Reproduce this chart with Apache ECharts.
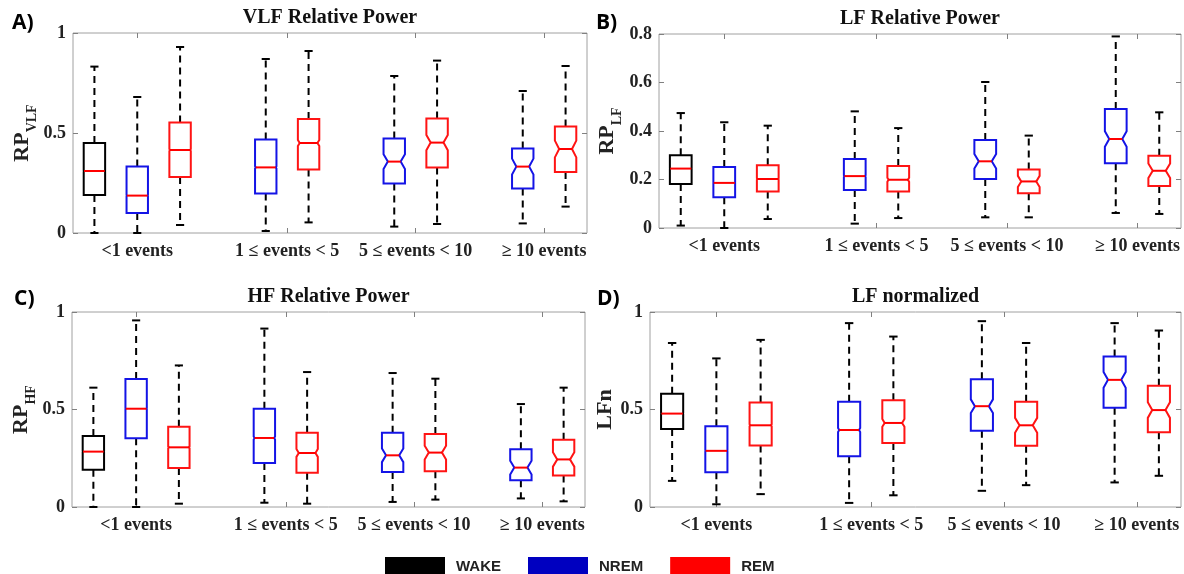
<!DOCTYPE html>
<html>
<head>
<meta charset="utf-8">
<script src="https://cdn.jsdelivr.net/npm/echarts@6/dist/echarts.min.js"></script>
<style>
  html, body { margin: 0; padding: 0; background: #fff; }
  #chart { width: 1184px; height: 574px; }
</style>
</head>
<body>
<div id="chart"></div>
<script>
// group labels under each panel
const groupLabels = ['<1 events', '1 \u2264 events < 5', '5 \u2264 events < 10', '\u2265 10 events'];
const stages = ['WAKE', 'NREM', 'REM'];

// rows: [group, min, q1, median, q3, max, notch half-height]
// A) VLF relative power
const vlfWake = [[0, 0.000, 0.190, 0.310, 0.450, 0.832, 0.003]];
const vlfNrem = [
  [0, 0.000, 0.100, 0.187, 0.333, 0.680, 0.003],
  [1, 0.010, 0.198, 0.328, 0.468, 0.870, 0.006],
  [2, 0.032, 0.248, 0.357, 0.473, 0.785, 0.037],
  [3, 0.048, 0.223, 0.332, 0.423, 0.710, 0.040]
];
const vlfRem = [
  [0, 0.040, 0.280, 0.415, 0.553, 0.930, 0.005],
  [1, 0.053, 0.317, 0.450, 0.570, 0.910, 0.015],
  [2, 0.045, 0.328, 0.452, 0.573, 0.862, 0.038],
  [3, 0.132, 0.305, 0.420, 0.532, 0.835, 0.042]
];

// B) LF relative power
const lfWake = [[0, 0.010, 0.181, 0.245, 0.300, 0.474, 0.002]];
const lfNrem = [
  [0, 0.000, 0.127, 0.186, 0.252, 0.436, 0.002],
  [1, 0.018, 0.157, 0.214, 0.285, 0.481, 0.004],
  [2, 0.044, 0.202, 0.275, 0.363, 0.602, 0.030],
  [3, 0.062, 0.267, 0.367, 0.491, 0.790, 0.032]
];
const lfRem = [
  [0, 0.037, 0.151, 0.202, 0.259, 0.422, 0.003],
  [1, 0.041, 0.151, 0.199, 0.256, 0.412, 0.008],
  [2, 0.044, 0.143, 0.192, 0.241, 0.381, 0.023],
  [3, 0.058, 0.173, 0.236, 0.298, 0.477, 0.030]
];

// C) HF relative power
const hfWake = [[0, 0.000, 0.191, 0.284, 0.364, 0.612, 0.003]];
const hfNrem = [
  [0, 0.000, 0.352, 0.504, 0.656, 0.957, 0.003],
  [1, 0.022, 0.226, 0.354, 0.504, 0.915, 0.008],
  [2, 0.026, 0.180, 0.265, 0.381, 0.687, 0.035],
  [3, 0.044, 0.137, 0.202, 0.296, 0.528, 0.035]
];
const hfRem = [
  [0, 0.017, 0.200, 0.306, 0.412, 0.726, 0.005],
  [1, 0.017, 0.176, 0.277, 0.381, 0.692, 0.020],
  [2, 0.038, 0.183, 0.279, 0.374, 0.658, 0.035],
  [3, 0.029, 0.162, 0.244, 0.345, 0.612, 0.037]
];

// D) LF normalized
const lfnWake = [[0, 0.134, 0.400, 0.479, 0.581, 0.841, 0.003]];
const lfnNrem = [
  [0, 0.014, 0.178, 0.288, 0.414, 0.762, 0.003],
  [1, 0.021, 0.260, 0.395, 0.540, 0.943, 0.010],
  [2, 0.083, 0.391, 0.517, 0.655, 0.953, 0.035],
  [3, 0.126, 0.509, 0.652, 0.772, 0.943, 0.040]
];
const lfnRem = [
  [0, 0.066, 0.316, 0.419, 0.536, 0.857, 0.005],
  [1, 0.060, 0.328, 0.431, 0.548, 0.874, 0.020],
  [2, 0.112, 0.314, 0.419, 0.540, 0.841, 0.038],
  [3, 0.160, 0.383, 0.497, 0.622, 0.905, 0.040]
];

const yTicksA = [0, 0.5, 1];
const yTicksB = [0, 0.2, 0.4, 0.6, 0.8];

const legendColors = { WAKE: '#000000', NREM: '#0000c0', REM: '#ff0000' };
const boxColors = { WAKE: '#000000', NREM: '#1414e6', REM: '#ff1414' };
const serif = 'Liberation Serif';

const panels = [
  { letter: 'A)', title: 'VLF Relative Power', yName: '{a|RP}{b|VLF}', ticks: yTicksA,
    grid: { left: 73, top: 33, width: 514, height: 200 }, nameGap: 27,
    data: [vlfWake, vlfNrem, vlfRem], letterPos: [12, 13] },
  { letter: 'B)', title: 'LF Relative Power', yName: '{a|RP}{b|LF}', ticks: yTicksB,
    grid: { left: 659, top: 34, width: 522, height: 194 }, nameGap: 35,
    data: [lfWake, lfNrem, lfRem], letterPos: [596, 13] },
  { letter: 'C)', title: 'HF Relative Power', yName: '{a|RP}{b|HF}', ticks: yTicksA,
    grid: { left: 72, top: 312, width: 513, height: 195 }, nameGap: 27,
    data: [hfWake, hfNrem, hfRem], letterPos: [14, 289] },
  { letter: 'D)', title: 'LF normalized', yName: '{a|LFn}', ticks: yTicksA,
    grid: { left: 650, top: 312, width: 531, height: 195 }, nameGap: 28,
    data: [lfnWake, lfnNrem, lfnRem], letterPos: [597, 289] }
];

// centre of the boxes that exist in each group -> label position
function groupCenters(p) {
  return groupLabels.map(function (_, g) {
    const slots = [];
    p.data.forEach(function (rows, s) {
      rows.forEach(function (r) { if (r[0] === g) slots.push(g * 3 + s); });
    });
    return (Math.min.apply(null, slots) + Math.max.apply(null, slots)) / 2;
  });
}

function renderBox(params, api) {
  const stage = stages[params.seriesIndex % 3];
  const color = boxColors[stage];
  const slot = api.value(0);
  const pt = function (v) { return api.coord([slot, v]); };
  const x = pt(api.value(3))[0];
  const w = api.size([1, 0])[0] * 0.5;
  const l = x - w / 2, r = x + w / 2;
  const yMin = pt(api.value(1))[1], yQ1 = pt(api.value(2))[1], yMed = pt(api.value(3))[1];
  const yQ3 = pt(api.value(4))[1], yMax = pt(api.value(5))[1];
  const nPx = Math.abs(pt(api.value(3) + api.value(6))[1] - yMed);
  const d = Math.min(0.2 * w, 0.6 * nPx);
  const cw = w * 0.19;
  const dash = { stroke: '#000', lineWidth: 2, lineDash: [7, 5] };
  const solid = { stroke: '#000', lineWidth: 2 };
  return {
    type: 'group',
    children: [
      { type: 'line', shape: { x1: x, y1: yQ3, x2: x, y2: yMax }, style: dash },
      { type: 'line', shape: { x1: x, y1: yQ1, x2: x, y2: yMin }, style: dash },
      { type: 'line', shape: { x1: x - cw, y1: yMax, x2: x + cw, y2: yMax }, style: solid },
      { type: 'line', shape: { x1: x - cw, y1: yMin, x2: x + cw, y2: yMin }, style: solid },
      { type: 'polygon', shape: { points: [
          [l, yQ1], [l, yMed + nPx], [l + d, yMed], [l, yMed - nPx], [l, yQ3],
          [r, yQ3], [r, yMed - nPx], [r - d, yMed], [r, yMed + nPx], [r, yQ1]
        ] }, style: { fill: 'none', stroke: color, lineWidth: 2 } },
      { type: 'line', shape: { x1: l + d, y1: yMed, x2: r - d, y2: yMed },
        style: { stroke: '#ff0000', lineWidth: 2 } }
    ]
  };
}

const grids = [], xAxes = [], yAxes = [], series = [], graphics = [];

panels.forEach(function (p, i) {
  const centers = groupCenters(p);
  const g = p.grid;
  grids.push(Object.assign({ show: true, borderColor: '#a0a0a0', borderWidth: 1 }, g));
  const tickStyle = { inside: true, length: 5, lineStyle: { color: '#808080', width: 1 } };
  const noLine = { show: false, onZero: false };
  xAxes.push({
    type: 'value', gridIndex: i, min: -0.5, max: 11.5,
    axisLine: noLine, splitLine: { show: false },
    axisTick: Object.assign({ customValues: centers }, tickStyle),
    axisLabel: {
      customValues: centers,
      formatter: function (v) { return groupLabels[centers.indexOf(v)] || ''; },
      fontFamily: serif, fontWeight: 'bold', fontSize: 18, color: '#222', margin: 9
    }
  });
  xAxes.push({
    type: 'value', gridIndex: i, position: 'top', min: -0.5, max: 11.5,
    axisLine: noLine, splitLine: { show: false },
    axisTick: Object.assign({ customValues: centers }, tickStyle),
    axisLabel: { show: false }
  });
  const yMax = p.ticks[p.ticks.length - 1];
  const step = p.ticks[1] - p.ticks[0];
  yAxes.push({
    type: 'value', gridIndex: i, position: 'left', min: 0, max: yMax, interval: step,
    axisLine: noLine, splitLine: { show: false },
    axisTick: tickStyle,
    axisLabel: { fontFamily: serif, fontWeight: 'bold', fontSize: 18, color: '#222', margin: 7 },
    name: p.yName, nameLocation: 'middle', nameRotate: 90, nameGap: p.nameGap,
    nameTextStyle: {
      rich: {
        a: { fontFamily: serif, fontWeight: 'bold', fontSize: 22, color: '#222', verticalAlign: 'top', padding: [0, 0, 6, 0] },
        b: { fontFamily: serif, fontWeight: 'bold', fontSize: 14, color: '#222', verticalAlign: 'bottom' }
      }
    }
  });
  yAxes.push({
    type: 'value', gridIndex: i, position: 'right', min: 0, max: yMax, interval: step,
    axisLine: noLine, splitLine: { show: false },
    axisTick: tickStyle, axisLabel: { show: false }
  });
  p.data.forEach(function (rows, s) {
    series.push({
      type: 'custom', name: stages[s], xAxisIndex: i * 2, yAxisIndex: i * 2,
      itemStyle: { color: legendColors[stages[s]] },
      renderItem: renderBox,
      encode: { x: 0, y: [1, 2, 3, 4, 5] },
      data: rows.map(function (r) { return [r[0] * 3 + s].concat(r.slice(1)); }),
      silent: true
    });
  });
  graphics.push({
    type: 'text', x: g.left + g.width / 2, y: g.top - 15,
    style: { text: p.title, font: 'bold 20px "Liberation Serif"', fill: '#111', textAlign: 'center', textVerticalAlign: 'middle' }
  });
  graphics.push({
    type: 'text', x: p.letterPos[0], y: p.letterPos[1],
    style: { text: p.letter, font: 'bold 21px "Open Sans"', fill: '#000' }
  });
});

const chart = echarts.init(document.getElementById('chart'));
chart.setOption({
  animation: false,
  grid: grids,
  xAxis: xAxes,
  yAxis: yAxes,
  series: series,
  graphic: graphics,
  legend: {
    data: stages, left: 380, top: 552, icon: 'rect', itemWidth: 60, itemHeight: 19, itemGap: 27,
    selectedMode: false, itemStyle: { borderWidth: 0 },
    textStyle: { fontFamily: 'Liberation Sans', fontWeight: 'bold', fontSize: 15, color: '#222', padding: [0, 0, 0, 6] }
  }
});
</script>
</body>
</html>
